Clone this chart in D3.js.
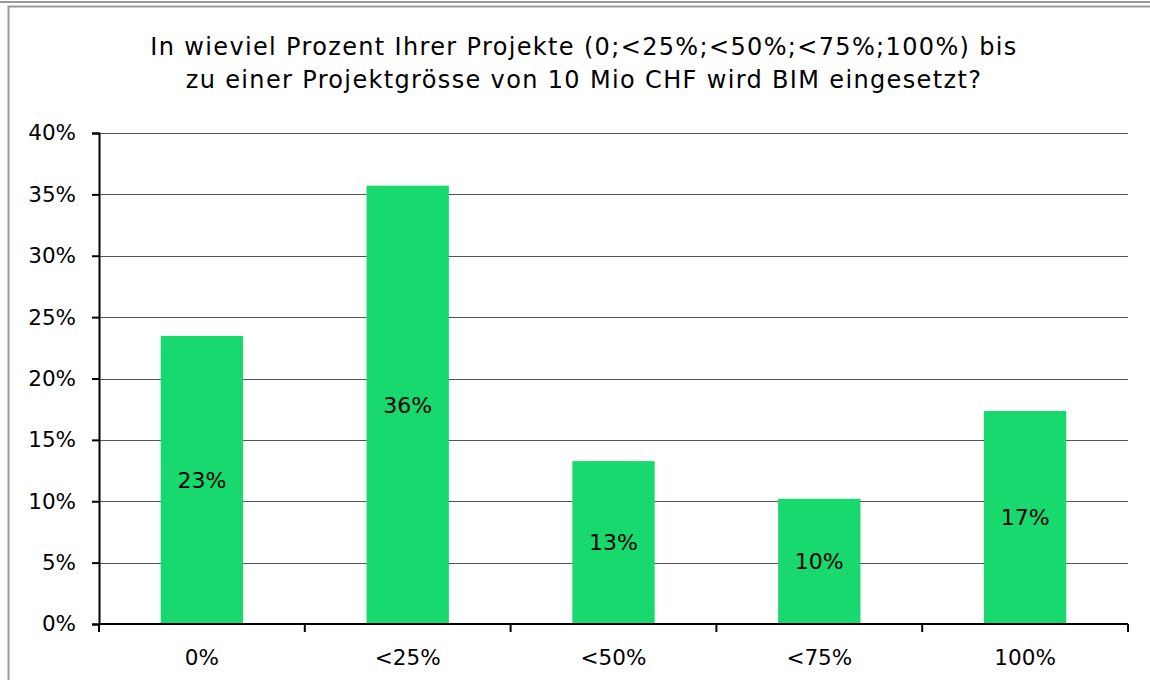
<!DOCTYPE html>
<html>
<head>
<meta charset="utf-8">
<script src="https://d3js.org/d3.v7.min.js"></script>
<style>
    body { margin: 0; background: #fff; }
    svg text { font-family: "DejaVu Sans", Verdana, sans-serif; fill: #000; }
    .title { font-size: 24px; letter-spacing: 1.35px; }
    .tick-label { font-size: 21.5px; }
    .bar-label { font-size: 22px; }
</style>
</head>
<body>
<div id="chart"></div>
<script>
    // values (share of answers)
    const categories = ["0%", "<25%", "<50%", "<75%", "100%"];
    const values = [23.47, 35.71, 13.27, 10.20, 17.35];
    const yTicks = [0, 5, 10, 15, 20, 25, 30, 35, 40];
    const titleLines = [
        "In wieviel Prozent Ihrer Projekte (0;<25%;<50%;<75%;100%) bis",
        "zu einer Projektgrösse von 10 Mio CHF wird BIM eingesetzt?"
    ];

    const width = 1150, height = 680;
    const margin = { top: 133, right: 22, bottom: 56, left: 99 };
    const innerW = width - margin.left - margin.right;
    const innerH = height - margin.top - margin.bottom;

    const svg = d3.select("#chart").append("svg")
        .attr("width", width)
        .attr("height", height);

    // outer frame
    svg.append("line")
        .attr("x1", 0).attr("x2", width).attr("y1", 2).attr("y2", 2)
        .attr("stroke", "#999").attr("stroke-width", 2);
    svg.append("rect")
        .attr("x", 8.5).attr("y", 6.5)
        .attr("width", width + 10).attr("height", height + 10)
        .attr("fill", "none").attr("stroke", "#9a9a9a").attr("stroke-width", 2);

    svg.append("text")
        .attr("class", "title")
        .attr("text-anchor", "middle")
        .selectAll("tspan")
        .data(titleLines)
        .enter().append("tspan")
        .attr("x", 584)
        .attr("y", (d, i) => 55 + i * 33)
        .text(d => d);

    const g = svg.append("g")
        .attr("transform", `translate(${margin.left},${margin.top})`);

    const x = d3.scaleBand()
        .domain(categories)
        .range([0, innerW])
        .paddingInner(0.6)
        .paddingOuter(0.3);

    const y = d3.scaleLinear()
        .domain([0, 40])
        .range([innerH, 0]);

    // gridlines
    g.append("g")
        .selectAll("line")
        .data(yTicks.filter(d => d > 0))
        .enter().append("line")
        .attr("x1", 0).attr("x2", innerW)
        .attr("y1", d => Math.round(y(d)) + 0.5)
        .attr("y2", d => Math.round(y(d)) + 0.5)
        .attr("stroke", "#555")
        .attr("stroke-width", 1.2);

    // bars
    g.append("g")
        .selectAll("rect")
        .data(values)
        .enter().append("rect")
        .attr("x", (d, i) => x(categories[i]))
        .attr("y", d => y(d))
        .attr("width", x.bandwidth())
        .attr("height", d => innerH - y(d))
        .attr("fill", "#17d96e");

    // labels in the middle of the bars
    g.append("g")
        .selectAll("text")
        .data(values)
        .enter().append("text")
        .attr("class", "bar-label")
        .attr("text-anchor", "middle")
        .attr("x", (d, i) => x(categories[i]) + x.bandwidth() / 2)
        .attr("y", d => (y(d) + innerH) / 2)
        .attr("dy", "0.35em")
        .text(d => Math.round(d) + "%");

    // y axis
    const yAxis = g.append("g")
        .call(d3.axisLeft(y).tickValues(yTicks).tickSize(7).tickFormat(d => d + "%"));
    yAxis.select(".domain").attr("stroke", "#000").attr("stroke-width", 2);
    yAxis.selectAll(".tick line").attr("stroke", "#000").attr("stroke-width", 2);
    yAxis.selectAll(".tick text")
        .attr("class", "tick-label")
        .attr("x", -23)
        .attr("font-family", null).attr("font-size", null);

    // x axis, ticks on the category boundaries
    const step = x.step();
    const xAxisG = g.append("g").attr("transform", `translate(0,${innerH})`);
    xAxisG.append("line")
        .attr("x1", 0).attr("x2", innerW)
        .attr("stroke", "#000").attr("stroke-width", 2);
    xAxisG.selectAll("line.bound")
        .data(d3.range(categories.length + 1))
        .enter().append("line")
        .attr("class", "bound")
        .attr("x1", i => i * step).attr("x2", i => i * step)
        .attr("y1", 0).attr("y2", 8)
        .attr("stroke", "#000").attr("stroke-width", 2);
    xAxisG.selectAll("text")
        .data(categories)
        .enter().append("text")
        .attr("class", "tick-label")
        .attr("text-anchor", "middle")
        .attr("x", d => x(d) + x.bandwidth() / 2)
        .attr("y", 41)
        .text(d => d);
</script>
</body>
</html>
